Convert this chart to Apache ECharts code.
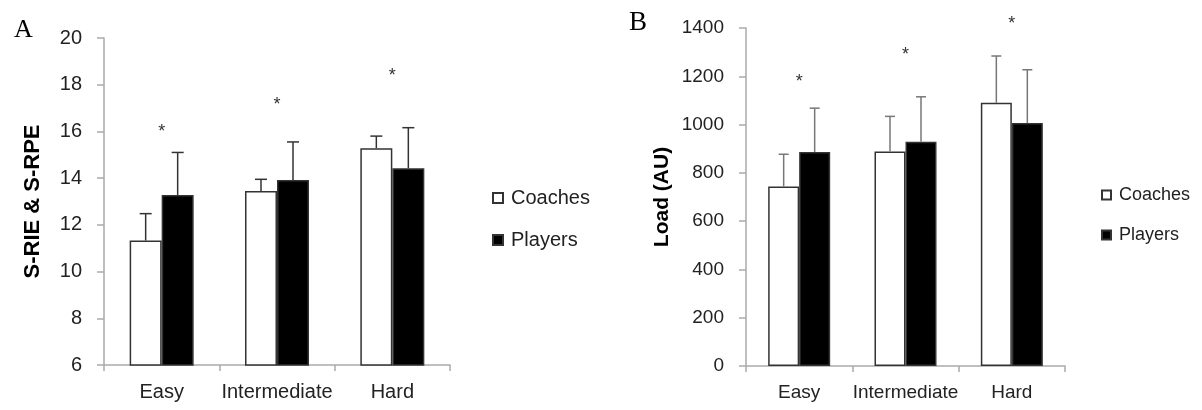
<!DOCTYPE html>
<html>
<head>
<meta charset="utf-8">
<script src="https://cdn.jsdelivr.net/npm/echarts@6/dist/echarts.min.js"></script>
<style>
  html, body { margin: 0; padding: 0; background: #fff; }
  #chart { width: 1202px; height: 410px; }
</style>
</head>
<body>
<div id="chart"></div>
<script>
// categories
var categories = ['Easy', 'Intermediate', 'Hard']
// panel A: S-RIE (coaches) & S-RPE (players)
var rpeCoaches = [11.33, 13.45, 15.28]
var rpeCoachesSd = [1.15, 0.5, 0.52]
var rpePlayers = [13.28, 13.92, 14.42]
var rpePlayersSd = [1.82, 1.63, 1.74]
var rpeStars = [16.1, 17.25, 18.5]
// panel B: load (AU)
var loadCoaches = [743, 888, 1090]
var loadCoachesSd = [134, 146, 194]
var loadPlayers = [886, 929, 1006]
var loadPlayersSd = [182, 186, 221]
var loadStars = [1190, 1302, 1427]

var font = 'Liberation Sans, Arial, sans-serif'
var chart = echarts.init(document.getElementById('chart'))

function errData(vals, sds) {
  return vals.map(function(v, i) { return [i, v, sds[i]] })
}

// error bar, upward only, shifted off the category centre
function errSeries(axis, vals, sds, off, cap, color) {
  return {
    type: 'custom',
    xAxisIndex: axis,
    yAxisIndex: axis,
    z: 5,
    data: errData(vals, sds),
    renderItem: function(params, api) {
      var base = api.coord([api.value(0), api.value(1)])
      var top = api.coord([api.value(0), api.value(1) + api.value(2)])
      var x = base[0] + off
      var st = { stroke: color, lineWidth: 1.5 }
      return {
        type: 'group',
        children: [
          { type: 'line', shape: { x1: x, y1: base[1], x2: x, y2: top[1] }, style: st },
          { type: 'line', shape: { x1: x - cap, y1: top[1], x2: x + cap, y2: top[1] }, style: st }
        ]
      }
    }
  }
}

function starSeries(axis, vals) {
  return {
    type: 'custom',
    xAxisIndex: axis,
    yAxisIndex: axis,
    clip: false,
    data: vals.map(function(v, i) { return [i, v] }),
    renderItem: function(params, api) {
      var p = api.coord([api.value(0), api.value(1)])
      return {
        type: 'text',
        x: p[0],
        y: p[1] + 3,
        style: { text: '*', fontSize: 18, fontFamily: font, fill: '#333', align: 'center', verticalAlign: 'middle' }
      }
    }
  }
}

function xAxisOpt(grid, size) {
  return {
    type: 'category',
    gridIndex: grid,
    data: categories,
    axisLine: { lineStyle: { color: '#aaa', width: 1.5 } },
    axisTick: { show: true, length: 6, lineStyle: { color: '#aaa', width: 1.5 } },
    axisLabel: { interval: 0, color: '#222', fontSize: size, fontFamily: font, margin: 17 }
  }
}

function yAxisOpt(grid, name, min, max, step, size, gap, nameSize) {
  return {
    type: 'value',
    gridIndex: grid,
    min: min,
    max: max,
    interval: step,
    name: name,
    nameLocation: 'middle',
    nameGap: gap,
    nameTextStyle: { color: '#000', fontSize: nameSize, fontWeight: 'bold', fontFamily: font },
    axisLine: { show: true, lineStyle: { color: '#aaa', width: 1.5 } },
    axisTick: { show: true, length: 7, lineStyle: { color: '#aaa', width: 1.5 } },
    axisLabel: {
      color: '#222', fontSize: size, fontFamily: font, margin: 22,
      formatter: function(v) { return String(v) }
    },
    splitLine: { show: false }
  }
}

function barSeries(name, axis, vals, fill, w) {
  return {
    name: name,
    type: 'bar',
    xAxisIndex: axis,
    yAxisIndex: axis,
    data: vals,
    barWidth: w,
    barGap: '0%',
    itemStyle: { color: fill, borderColor: '#333', borderWidth: 1.5 }
  }
}

function legendOpt(left, top, size, box) {
  return {
    orient: 'vertical',
    left: left,
    top: top,
    icon: 'rect',
    itemWidth: box,
    itemHeight: box,
    itemGap: 22,
    data: ['Coaches', 'Players'],
    textStyle: { color: '#222', fontSize: size, fontFamily: font, padding: [0, 0, 0, 3] }
  }
}

var option = {
  animation: false,
  backgroundColor: '#fff',
  title: [
    { text: 'A', left: 9, top: 12, textStyle: { fontFamily: 'Liberation Serif, serif', fontSize: 26, fontWeight: 'normal', color: '#000' } },
    { text: 'B', left: 624, top: 4, textStyle: { fontFamily: 'Liberation Serif, serif', fontSize: 27, fontWeight: 'normal', color: '#000' } }
  ],
  legend: [legendOpt(487, 183, 20, 10), legendOpt(1096, 181, 18, 9)],
  grid: [
    { left: 104, top: 38, width: 346, height: 327 },
    { left: 746, top: 28, width: 319, height: 338 }
  ],
  xAxis: [xAxisOpt(0, 20), xAxisOpt(1, 19)],
  yAxis: [
    yAxisOpt(0, 'S-RIE & S-RPE', 6, 20, 2, 20, 60, 22),
    yAxisOpt(1, 'Load (AU)', 0, 1400, 200, 19, 73, 21)
  ],
  series: [
    barSeries('Coaches', 0, rpeCoaches, '#fff', 32),
    barSeries('Players', 0, rpePlayers, '#000', 32),
    errSeries(0, rpeCoaches, rpeCoachesSd, -16, 6, '#333'),
    errSeries(0, rpePlayers, rpePlayersSd, 16, 6, '#333'),
    starSeries(0, rpeStars),
    barSeries('Coaches', 1, loadCoaches, '#fff', 31),
    barSeries('Players', 1, loadPlayers, '#000', 31),
    errSeries(1, loadCoaches, loadCoachesSd, -15.5, 5, '#777'),
    errSeries(1, loadPlayers, loadPlayersSd, 15.5, 5, '#777'),
    starSeries(1, loadStars)
  ]
}
chart.setOption(option)
</script>
</body>
</html>
